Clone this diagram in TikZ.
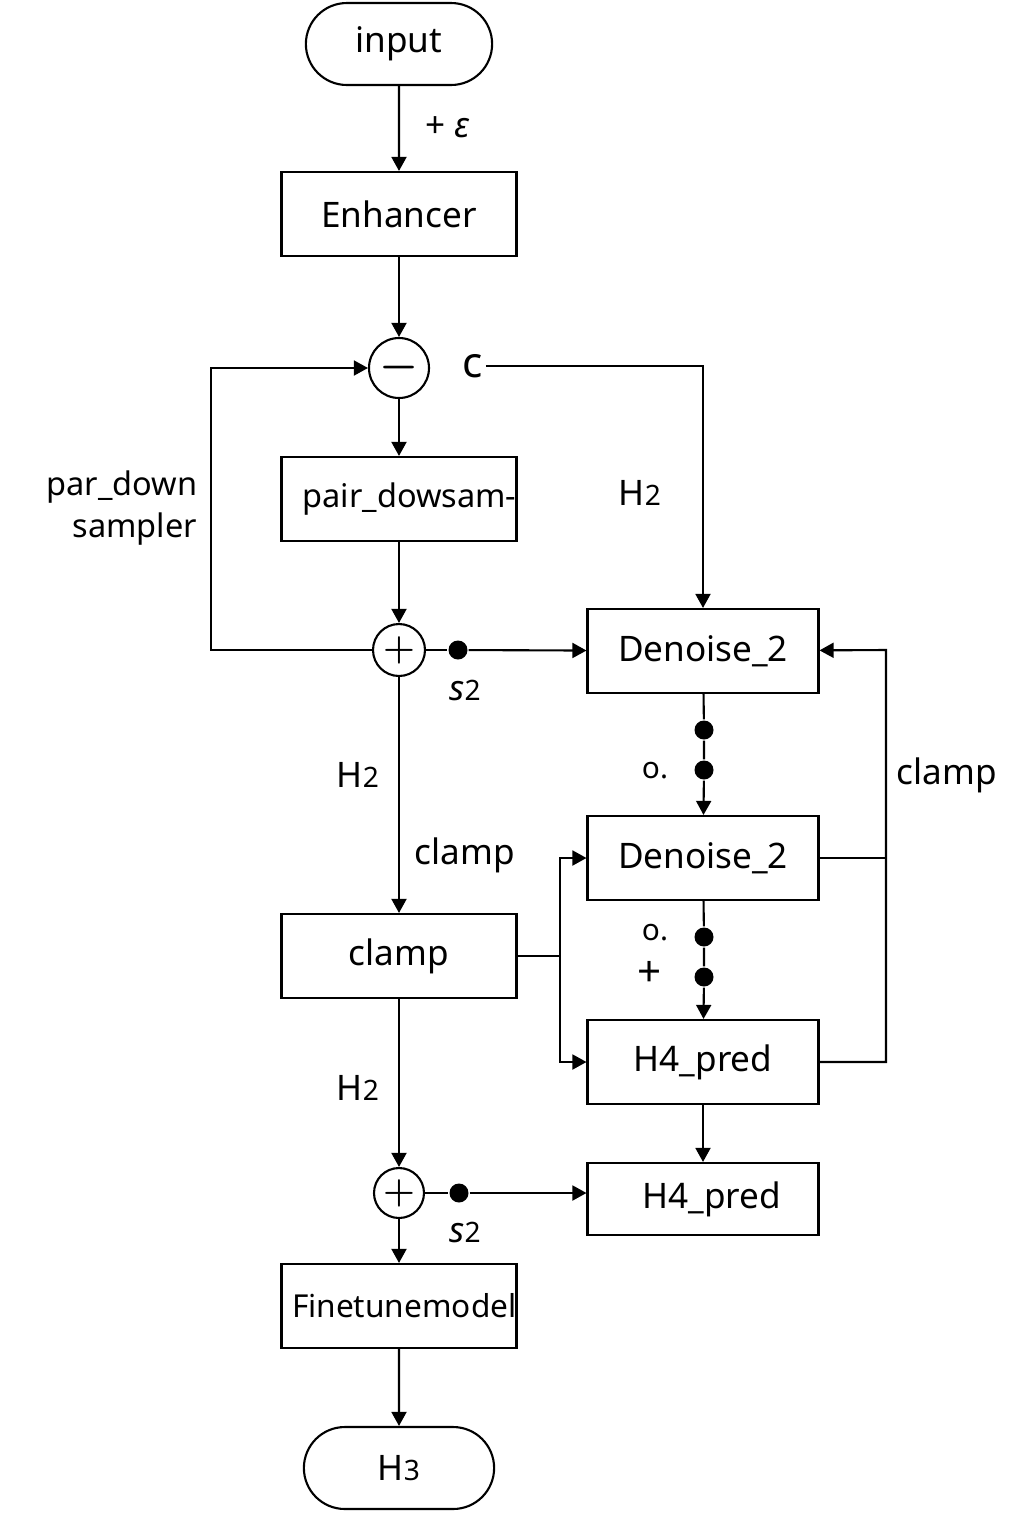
\documentclass[tikz,border=0pt]{standalone}
\usepackage{fontspec}
\setmainfont{Noto Sans}
\usepackage{tikz}
\usetikzlibrary{arrows.meta}
\usetikzlibrary{shapes}

\newcommand{\sbt}[1]{{\fontsize{16}{16}\selectfont #1}}

\begin{document}
\begin{tikzpicture}[x=0.02cm,y=-0.02cm,line width=1.2pt,
  >={Triangle[length=8pt,width=8.5pt]},
  font=\fontsize{20}{24}\selectfont,
  box/.style={draw,rectangle,minimum width=4.7cm,minimum height=1.68cm,inner sep=0pt},
  rbox/.style={box,minimum width=4.62cm},
  term/.style={draw,rounded rectangle,minimum width=3.96cm,minimum height=1.64cm},
  op/.style={draw,circle,minimum size=1.04cm,inner sep=0pt,font=\fontsize{21}{21}\selectfont\boldmath},
  dot/.style={circle,fill,inner sep=0pt,minimum size=0.38cm}]
\useasboundingbox (0,0) rectangle (1024,1536);
% main column
\node (in) at (399,44) [term] {input};
\node (enh) at (399,214) [box] {Enhancer};
\node (sub) at (399,368) [op,minimum size=1.2cm,font=\fontsize{24}{24}\selectfont\boldmath] {$-$};
\node (c) at (473,366) [inner sep=1pt,font=\fontsize{24}{24}\selectfont] {c};
\node (pds) at (399,499) [box,text width=4.7cm,align=center,font=\fontsize{18.5}{22}\selectfont] {\hspace*{12pt}pair\_dowsam-};
\node (add) at (399,650) [op] {$+$};
\node (s1) at (458,650) [dot] {};
\node (clp) at (399,956) [box] {clamp};
\node (add2) at (399,1193) [op,minimum size=1cm] {$+$};
\node (s2) at (459,1193) [dot] {};
\node (ft) at (399,1306) [box,text width=4.7cm,align=flush right,font=\fontsize{18}{22}\selectfont] {Finetunemodel};
\node (out) at (399,1468) [term,minimum width=4.04cm] {H\sbt{3}};
% right column
\node (dn1) at (703,651) [rbox] {Denoise\_2};
\node (d1) at (704,730) [dot] {};
\node (d2) at (704,770) [dot] {};
\node (dn2) at (703,858) [rbox] {Denoise\_2};
\node (d3) at (704,937) [dot] {};
\node (d4) at (704,977) [dot] {};
\node (hp1) at (703,1062) [rbox] {H4\_pred};
\node (hp2) at (703,1199) [rbox,minimum height=1.44cm] {\hspace*{10pt}H4\_pred};
% labels
\node (eps) at (448,127) {+ \textit{ε}};
\node (lpd) at (204,508) [left,align=right,font=\fontsize{18.5}{24}\selectfont] {par\_down\\sampler};
\node (h2a) at (640,493) {H\sbt{2}};
\node (s2a) at (465,690) {\textit{s}\sbt{2}};
\node (o1) at (655,771) [font=\fontsize{17}{20}\selectfont] {o.};
\node (o2) at (655,933) [font=\fontsize{17}{20}\selectfont] {o.};
\node (pl) at (650,974) [font=\fontsize{24}{24}\selectfont] {+};
\node (clr) at (947,775) {clamp};
\node (h2b) at (358,775) {H\sbt{2}};
\node (clm) at (465,855) {clamp};
\node (h2c) at (358,1088) {H\sbt{2}};
\node (s2b) at (465,1232) {\textit{s}\sbt{2}};
\coordinate (lft) at (211,650);
\coordinate (rgt) at (886,650);
\coordinate (mid) at (560,956);
% connectors
\draw [->] (in) -- (enh);
\draw [->] (enh) -- (sub);
\draw [->] (sub) -- (pds);
\draw [->] (pds) -- (add);
\draw (add) -- (s1);
\draw [->] (s1) -- (dn1);
\draw [->] (add) -- (lft) |- (sub);
\draw [->] (c) -| (dn1);
\draw (dn1) -- (d1) -- (d2);
\draw [->] (d2) -- (dn2);
\draw (dn2) -- (d3) -- (d4);
\draw [->] (d4) -- (hp1);
\draw [->] (hp1) -- (hp2);
\draw [->] (hp1) -| (rgt) -- (dn1);
\draw (dn2) -- (dn2 -| rgt);
\draw [->] (add) -- (clp);
\draw (clp) -- (mid);
\draw [->] (mid) |- (dn2);
\draw [->] (mid) |- (hp1);
\draw [->] (clp) -- (add2);
\draw (add2) -- (s2);
\draw [->] (s2) -- (s2 -| hp2.west);
\draw [->] (add2) -- (ft);
\draw [->] (ft) -- (out);
\end{tikzpicture}
\end{document}
